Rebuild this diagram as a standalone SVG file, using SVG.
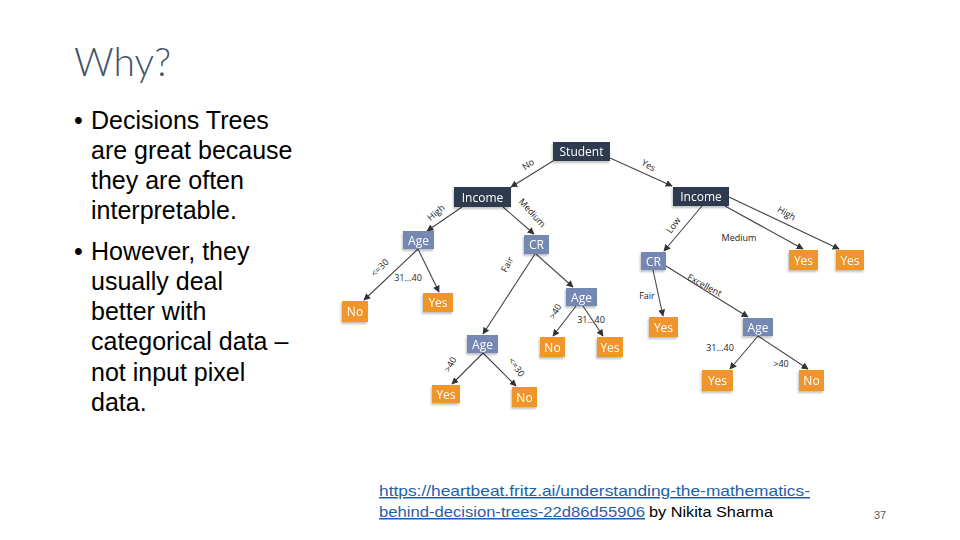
<svg xmlns="http://www.w3.org/2000/svg" width="960" height="540" viewBox="0 0 960 540">
<style>
.title{font-family:Lato,"Liberation Sans",sans-serif;font-weight:300;font-size:39px;fill:#44546a}
.body{font-family:"Liberation Sans",Arial,sans-serif;font-size:25px;fill:#000}
.link{font-family:"Liberation Sans",Arial,sans-serif;font-size:15px;fill:#1f5fa8;text-decoration:underline}
.cite{font-family:"Liberation Sans",Arial,sans-serif;font-size:15px;fill:#000}
.pg{font-family:"Liberation Sans",Arial,sans-serif;font-size:11px;fill:#595959}
.dark{fill:#2f3b50}
.light{fill:#7588b4}
.leaf{fill:#f0952b}
.nt{font-family:"Open Sans","Liberation Sans",sans-serif;font-size:12px;fill:#fff;text-anchor:middle}
.el{font-family:"Open Sans","Liberation Sans",sans-serif;font-size:9px;fill:#222;text-anchor:middle}
.edge{stroke:#444;stroke-width:1.1;fill:none;marker-end:url(#ah)}
</style>
<defs>
<marker id="ah" viewBox="0 0 10 10" refX="9" refY="5" markerWidth="7" markerHeight="7" orient="auto" markerUnits="userSpaceOnUse">
<path d="M0,0 L10,5 L0,10 z" fill="#333"/>
</marker>
<filter id="sh" x="-30%" y="-30%" width="160%" height="180%">
<feGaussianBlur in="SourceAlpha" stdDeviation="1.2"/>
<feOffset dx="-1" dy="2" result="b"/>
<feComponentTransfer><feFuncA type="linear" slope="0.25"/></feComponentTransfer>
<feMerge><feMergeNode/><feMergeNode in="SourceGraphic"/></feMerge>
</filter>
</defs>
<rect width="960" height="540" fill="#fff"/>

<g id="text-block">
<text class="title" x="74" y="76">Why?</text>
<text class="body" x="74" y="129">•</text>
<text class="body" x="91" y="129">Decisions Trees</text>
<text class="body" x="91" y="159">are great because</text>
<text class="body" x="91" y="189">they are often</text>
<text class="body" x="91" y="219">interpretable.</text>
<text class="body" x="74" y="260">•</text>
<text class="body" x="91" y="260">However, they</text>
<text class="body" x="91" y="290">usually deal</text>
<text class="body" x="91" y="320">better with</text>
<text class="body" x="91" y="350">categorical data –</text>
<text class="body" x="91" y="381">not input pixel</text>
<text class="body" x="91" y="411">data.</text>
</g>

<g id="citation">
<text class="link" x="379" y="496" textLength="431" lengthAdjust="spacingAndGlyphs">https://heartbeat.fritz.ai/understanding-the-mathematics-</text>
<text class="link" x="379" y="517" textLength="266" lengthAdjust="spacingAndGlyphs">behind-decision-trees-22d86d55906</text>
<text class="cite" x="649" y="517" textLength="124" lengthAdjust="spacingAndGlyphs">by Nikita Sharma</text>
<text class="pg" x="874" y="519">37</text>
</g>

<g id="connectors">
<path class="edge" d="M553,161 L511,187"/>
<path class="edge" d="M610,158 L672,186"/>
<path class="edge" d="M462,207 L427,231"/>
<path class="edge" d="M503,207 L534,234"/>
<path class="edge" d="M418,249 L364,300"/>
<path class="edge" d="M418,249 L439,292"/>
<path class="edge" d="M535,254 L483,334"/>
<path class="edge" d="M536,254 L573,287"/>
<path class="edge" d="M576,306 L553,336"/>
<path class="edge" d="M583,306 L603,336"/>
<path class="edge" d="M483,353 L452,384"/>
<path class="edge" d="M483,353 L516,386"/>
<path class="edge" d="M702,206 L664,251"/>
<path class="edge" d="M725,206 L803,249"/>
<path class="edge" d="M729,197 L839,249"/>
<path class="edge" d="M653,270 L663,316"/>
<path class="edge" d="M666,266 L748,317"/>
<path class="edge" d="M758,336 L730,369"/>
<path class="edge" d="M758,336 L808,369"/>
<text class="el" transform="translate(530,167) rotate(-35)">No</text>
<text class="el" transform="translate(647,168) rotate(30)">Yes</text>
<text class="el" transform="translate(438,215) rotate(-40)">High</text>
<text class="el" transform="translate(530,215) rotate(48)">Medium</text>
<text class="el" transform="translate(382,270) rotate(-45)">&lt;=30</text>
<text class="el" x="408" y="281">31...40</text>
<text class="el" transform="translate(510,266) rotate(-62)">Fair</text>
<text class="el" transform="translate(558,313) rotate(-60)">&gt;40</text>
<text class="el" x="591" y="323">31...40</text>
<text class="el" transform="translate(453,366) rotate(-60)">&gt;40</text>
<text class="el" transform="translate(514,369) rotate(55)">&lt;=30</text>
<text class="el" transform="translate(676,227) rotate(-55)">Low</text>
<text class="el" x="739" y="241">Medium</text>
<text class="el" transform="translate(785,216) rotate(30)">High</text>
<text class="el" x="647" y="299">Fair</text>
<text class="el" transform="translate(703,288) rotate(28)">Excellent</text>
<text class="el" x="720" y="351">31...40</text>
<text class="el" x="781" y="367">&gt;40</text>
</g>

<g id="n-student" filter="url(#sh)"><rect class="dark" x="553" y="142" width="57" height="19"/><text class="nt" x="581.5" y="156">Student</text></g>
<g id="n-income-l" filter="url(#sh)"><rect class="dark" x="454" y="187" width="57" height="20"/><text class="nt" x="482.5" y="201.5">Income</text></g>
<g id="n-income-r" filter="url(#sh)"><rect class="dark" x="673" y="187" width="56" height="19"/><text class="nt" x="701" y="201">Income</text></g>
<g id="n-age-l" filter="url(#sh)"><rect class="light" x="403" y="231" width="31" height="18"/><text class="nt" x="418.5" y="244.5">Age</text></g>
<g id="n-cr-l" filter="url(#sh)"><rect class="light" x="524" y="235" width="25" height="19"/><text class="nt" x="536.5" y="249">CR</text></g>
<g id="n-age-m" filter="url(#sh)"><rect class="light" x="566" y="288" width="31" height="18"/><text class="nt" x="581.5" y="301.5">Age</text></g>
<g id="n-age-b" filter="url(#sh)"><rect class="light" x="467" y="335" width="31" height="18"/><text class="nt" x="482.5" y="348.5">Age</text></g>
<g id="n-cr-r" filter="url(#sh)"><rect class="light" x="641" y="252" width="25" height="18"/><text class="nt" x="653.5" y="265.5">CR</text></g>
<g id="n-age-r" filter="url(#sh)"><rect class="light" x="743" y="318" width="30" height="18"/><text class="nt" x="758" y="331.5">Age</text></g>
<g id="n-no1" filter="url(#sh)"><rect class="leaf" x="342" y="301" width="26" height="21"/><text class="nt" x="355" y="316">No</text></g>
<g id="n-yes1" filter="url(#sh)"><rect class="leaf" x="423" y="293" width="30" height="19"/><text class="nt" x="438" y="307">Yes</text></g>
<g id="n-no2" filter="url(#sh)"><rect class="leaf" x="540" y="337" width="25" height="20"/><text class="nt" x="552.5" y="351.5">No</text></g>
<g id="n-yes2" filter="url(#sh)"><rect class="leaf" x="597" y="337" width="26" height="20"/><text class="nt" x="610" y="351.5">Yes</text></g>
<g id="n-yes3" filter="url(#sh)"><rect class="leaf" x="432" y="385" width="28" height="18"/><text class="nt" x="446" y="398.5">Yes</text></g>
<g id="n-no3" filter="url(#sh)"><rect class="leaf" x="512" y="387" width="25" height="20"/><text class="nt" x="524.5" y="401.5">No</text></g>
<g id="n-yes-fair" filter="url(#sh)"><rect class="leaf" x="649" y="317" width="29" height="20"/><text class="nt" x="663.5" y="331.5">Yes</text></g>
<g id="n-yes-med" filter="url(#sh)"><rect class="leaf" x="789" y="250" width="29" height="20"/><text class="nt" x="803.5" y="264.5">Yes</text></g>
<g id="n-yes-high" filter="url(#sh)"><rect class="leaf" x="836" y="250" width="28" height="20"/><text class="nt" x="850" y="264.5">Yes</text></g>
<g id="n-yes4" filter="url(#sh)"><rect class="leaf" x="702" y="370" width="31" height="21"/><text class="nt" x="717.5" y="385">Yes</text></g>
<g id="n-no4" filter="url(#sh)"><rect class="leaf" x="799" y="370" width="25" height="21"/><text class="nt" x="811.5" y="385">No</text></g>
</svg>
